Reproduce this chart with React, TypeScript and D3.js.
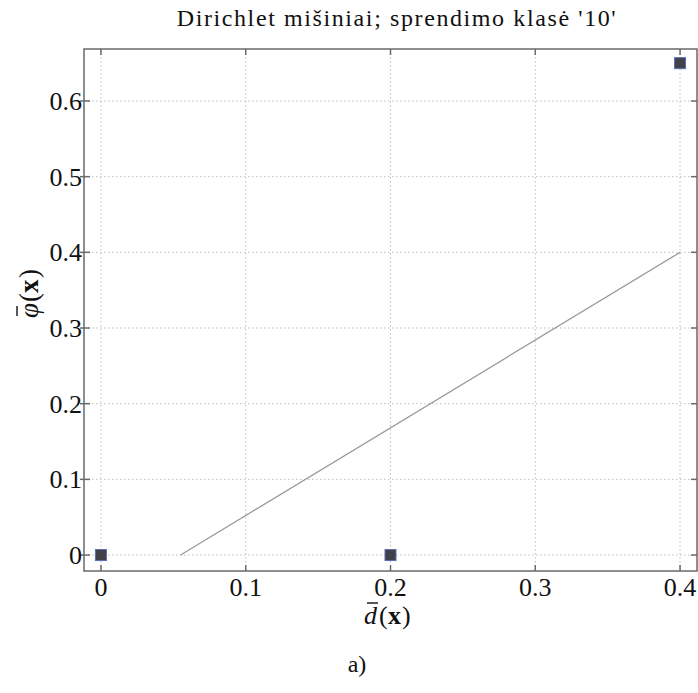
import React from "react";
import * as d3 from "d3";

const W = 698;
const H = 693;

// Observed points
const pointX = [0, 0.2, 0.4];
const pointY = [0, 0, 0.65];

// Fitted line endpoints
const lineX = [0.055, 0.4];
const lineY = [0, 0.4];

const xTicks = [0, 0.1, 0.2, 0.3, 0.4];
const yTicks = [0, 0.1, 0.2, 0.3, 0.4, 0.5, 0.6];

const title = "Dirichlet mišiniai; sprendimo klasė '10'";
const caption = "a)";

const margin = { left: 84, right: 1, top: 49, bottom: 122 };

const SERIF = '"Liberation Serif", "Times New Roman", Tinos, serif';

export default function App() {
  const x = d3
    .scaleLinear()
    .domain([-0.0117, 0.4117])
    .range([margin.left, W - margin.right]);
  const y = d3
    .scaleLinear()
    .domain([-0.0211, 0.6687])
    .range([H - margin.bottom, margin.top]);

  const [x0, x1] = x.range();
  const [y0, y1] = y.range();

  const line = d3
    .line<number>()
    .x((_, i) => x(lineX[i]))
    .y((d) => y(d));

  const fmt = (v: number) => (v === 0 ? "0" : d3.format(".1f")(v));
  const tickLen = 6;
  const sq = 11;
  const labelFs = 26;

  return (
    <svg
      width={W}
      height={H}
      style={{ position: "absolute", left: 0, top: 0, background: "#fff", fontFamily: SERIF }}
    >
      <text
        x={397}
        y={26}
        fontSize={24}
        letterSpacing={1.6}
        textAnchor="middle"
        fill="#111"
      >
        {title}
      </text>

      {/* grid */}
      <g stroke="#bdbdbd" strokeDasharray="1.5,2.5" strokeWidth={1}>
        {xTicks.map((t) => (
          <line key={"gx" + t} x1={x(t)} x2={x(t)} y1={y1} y2={y0} />
        ))}
        {yTicks.map((t) => (
          <line key={"gy" + t} x1={x0} x2={x1} y1={y(t)} y2={y(t)} />
        ))}
      </g>

      {/* frame */}
      <rect
        x={x0}
        y={y1}
        width={x1 - x0}
        height={y0 - y1}
        fill="none"
        stroke="#6a6a6a"
        strokeWidth={1.5}
      />

      {/* ticks */}
      <g stroke="#6a6a6a" strokeWidth={1.5}>
        {xTicks.map((t) => (
          <g key={"tx" + t}>
            <line x1={x(t)} x2={x(t)} y1={y0} y2={y0 - tickLen} />
            <line x1={x(t)} x2={x(t)} y1={y1} y2={y1 + tickLen} />
          </g>
        ))}
        {yTicks.map((t) => (
          <g key={"ty" + t}>
            <line x1={x0 - 4} x2={x0 + tickLen} y1={y(t)} y2={y(t)} />
            <line x1={x1} x2={x1 - tickLen} y1={y(t)} y2={y(t)} />
          </g>
        ))}
      </g>

      {/* tick labels */}
      <g fontSize={26} fill="#111">
        {xTicks.map((t) => (
          <text key={"lx" + t} x={x(t)} y={y0 + 25} textAnchor="middle">
            {fmt(t)}
          </text>
        ))}
        {yTicks.map((t) => (
          <text key={"ly" + t} x={x0 - 2} y={y(t) + 9} textAnchor="end">
            {fmt(t)}
          </text>
        ))}
      </g>

      {/* fitted line */}
      <path d={line(lineY) ?? ""} fill="none" stroke="#9a9a9a" strokeWidth={1.3} />

      {/* points */}
      {pointX.map((px, i) => (
        <rect
          key={"p" + i}
          x={x(px) - sq / 2}
          y={y(pointY[i]) - sq / 2}
          width={sq}
          height={sq}
          fill="#414149"
          stroke="#5a6fae"
          strokeWidth={1}
        />
      ))}

      {/* x axis label: d-bar(x) */}
      <g transform="translate(364,624)" fill="#111" fontSize={labelFs}>
        <text x={0} y={0}>
          <tspan x={0} fontStyle="italic">d</tspan>
          <tspan x={15}>(</tspan>
          <tspan x={24} fontWeight="bold">x</tspan>
          <tspan x={38}>)</tspan>
        </text>
        <line x1={3} x2={14} y1={-21} y2={-21} stroke="#111" strokeWidth={1.4} />
      </g>

      {/* y axis label: phi-bar(x) */}
      <g transform="translate(38,318) rotate(-90)" fill="#111" fontSize={27}>
        <text x={0} y={0}>
          <tspan x={0} fontStyle="italic">φ</tspan>
          <tspan x={16}>(</tspan>
          <tspan x={25} fontWeight="bold">x</tspan>
          <tspan x={40}>)</tspan>
        </text>
        <line x1={2} x2={12} y1={-21} y2={-21} stroke="#111" strokeWidth={1.4} />
      </g>

      <text x={357} y={672} fontSize={24} textAnchor="middle" fill="#111">
        {caption}
      </text>
    </svg>
  );
}
